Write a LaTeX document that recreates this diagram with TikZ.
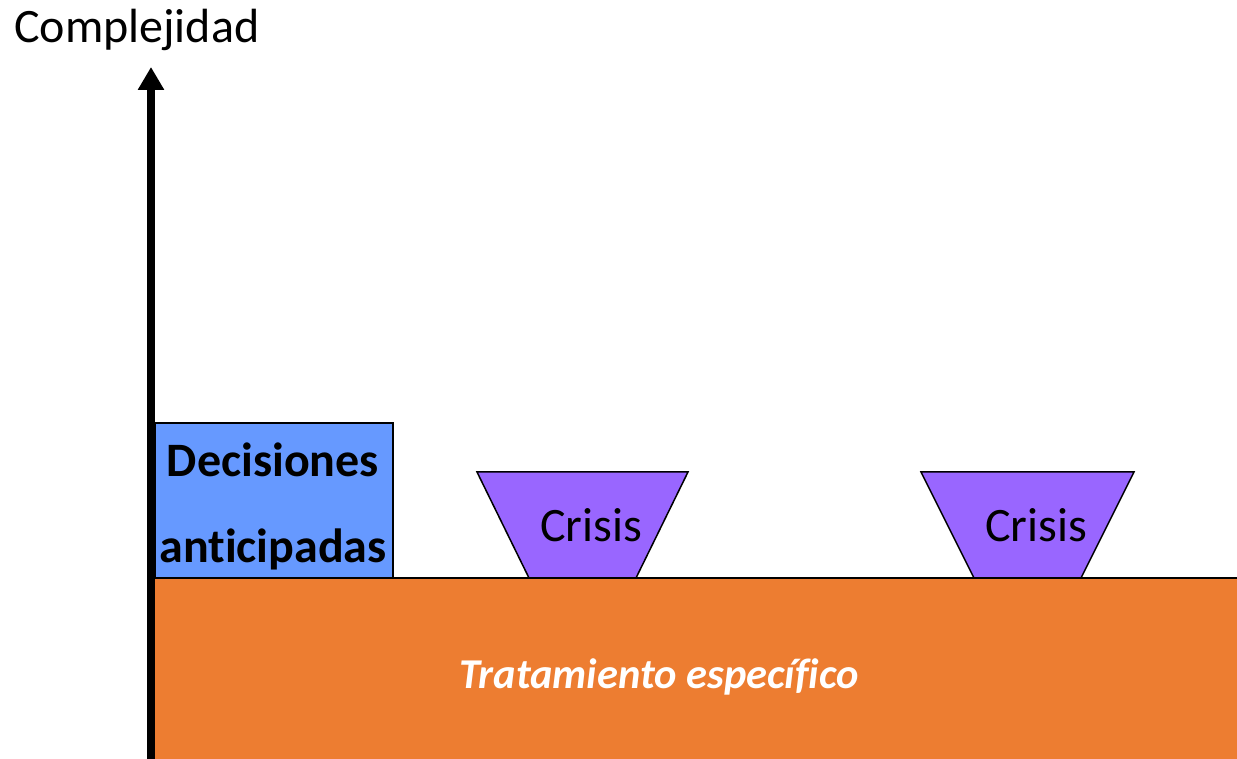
\documentclass[tikz,border=0pt]{standalone}
\usepackage{fontspec}
\setmainfont{Carlito}[Ligatures=NoCommon]
\usetikzlibrary{arrows.meta}
\definecolor{decblue}{HTML}{6699FF}
\definecolor{crisispurple}{HTML}{9966FF}
\definecolor{treatorange}{HTML}{ED7D31}
\tikzset{
  txt/.style={anchor=base, inner sep=0pt, font=\fontsize{48}{56}\selectfont},
  crisisbox/.style={fill=crisispurple, draw=black, line width=1.5pt, line join=miter}
}
\begin{document}
\begin{tikzpicture}[x=1pt,y=1pt]
\useasboundingbox (0,0) rectangle (1237,759);
% base band
\fill[treatorange] (155,0) rectangle (1237,181);
\draw[line width=1.5pt] (155,181) -- (1237,181);
\node[txt, anchor=center, text=white, font=\fontsize{42.5}{50}\selectfont\bfseries\itshape] (treat) at (659,82) {Tratamiento específico};
% blocks
\node[draw, fill=decblue, line width=1.2pt, minimum width=238pt, minimum height=155pt, inner sep=0pt] (dec) at (274,258.5) {};
\node[txt, font=\fontsize{48}{56}\selectfont\bfseries] (dec1) at (273,282) {Decisiones};
\node[txt, font=\fontsize{48}{56}\selectfont\bfseries] (dec2) at (273,196) {anticipadas};
\filldraw[crisisbox] (477,287) -- (688,287) -- (636,181) -- (529,181) -- cycle;
\filldraw[crisisbox] (921,287) -- (1134,287) -- (1081,181) -- (974,181) -- cycle;
\node[txt] (crisis1) at (591,217) {Crisis};
\node[txt] (crisis2) at (1036,217) {Crisis};
% axis
\coordinate (axisbot) at (151,0);
\coordinate (axistop) at (151,692);
\draw[line width=8pt, -{Triangle[width=25pt,length=23pt]}] (axisbot) -- (axistop);
\node[txt, anchor=base west] (ylabel) at (14,716) {Complejidad};
\end{tikzpicture}
\end{document}
